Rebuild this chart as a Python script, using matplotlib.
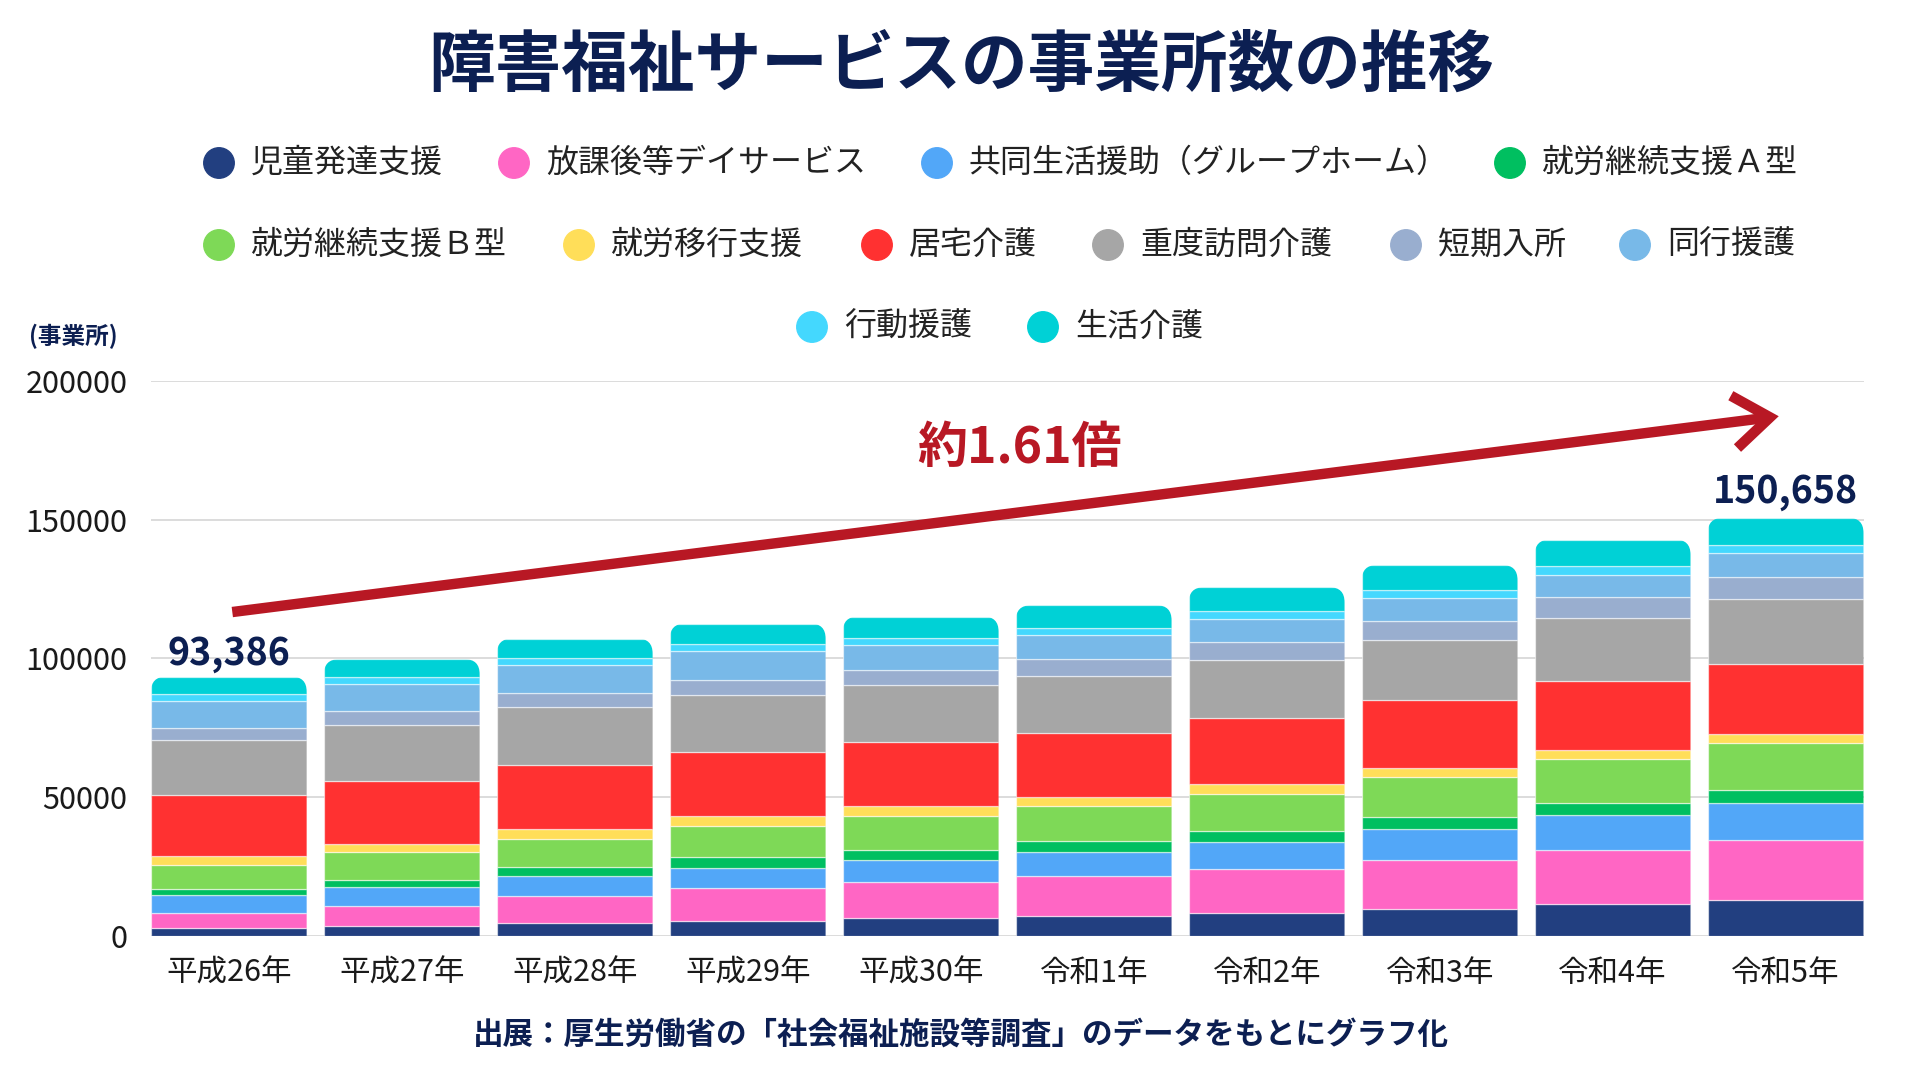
import matplotlib
matplotlib.use("Agg")
import matplotlib.pyplot as plt
from matplotlib.patches import FancyBboxPatch, Ellipse
import numpy as np

plt.rcParams['font.family'] = ['Noto Sans CJK JP', 'DejaVu Sans']

# ---------------- data ----------------
years = ["平成26年", "平成27年", "平成28年", "平成29年", "平成30年",
         "令和1年", "令和2年", "令和3年", "令和4年", "令和5年"]

series_names = ["児童発達支援", "放課後等デイサービス", "共同生活援助（グループホーム）",
                "就労継続支援Ａ型", "就労継続支援Ｂ型", "就労移行支援", "居宅介護",
                "重度訪問介護", "短期入所", "同行援護", "行動援護", "生活介護"]

jidou_hattatsu   = [2890, 3615, 4580, 5420, 6510, 7230, 8315, 9760, 11450, 13010]
houkago_day      = [5420, 6990, 9640, 11690, 12770, 14220, 15905, 17470, 19520, 21450]
kyoudou_seikatsu = [6265, 6870, 7230, 7470, 8075, 8800, 9640, 11205, 12530, 13375]
shurou_a         = [2410, 2770, 3375, 3855, 3615, 3735, 3735, 4215, 4215, 4580]
shurou_b         = [8680, 9760, 10120, 10965, 12050, 12650, 13615, 14460, 15905, 16990]
shurou_ikou      = [3130, 3010, 3375, 3615, 3615, 3375, 3375, 3375, 3375, 3375]
kyotaku_kaigo    = [21810, 22650, 23135, 23135, 23135, 23135, 23860, 24460, 24695, 25120]
juudo_houmon     = [19790, 20390, 20855, 20630, 20445, 20500, 20975, 21685, 22745, 23375]
tanki_nyusho     = [4580, 4945, 5200, 5525, 5705, 6135, 6605, 6970, 7725, 7925]
doukou_engo      = [9640, 9855, 10110, 10360, 9025, 8520, 8305, 8195, 8050, 8800]
koudou_engo      = [2640, 2530, 2635, 2635, 2525, 2780, 2890, 2890, 3250, 2700]
seikatsu_kaigo   = [6126, 6310, 6860, 7220, 7580, 8050, 8410, 8950, 9340, 9958]

total_first = "93,386"
total_last = "150,658"
growth_label = "約1.61倍"
yticks = [0, 50000, 100000, 150000, 200000]

series_values = [jidou_hattatsu, houkago_day, kyoudou_seikatsu, shurou_a, shurou_b,
                 shurou_ikou, kyotaku_kaigo, juudo_houmon, tanki_nyusho,
                 doukou_engo, koudou_engo, seikatsu_kaigo]

# ---------------- style ----------------
colors = ["#223f80", "#ff66c4", "#52a7f8", "#00bf60", "#7ed957", "#ffde59",
          "#ff3131", "#a6a6a6", "#99aecf", "#78b9e8", "#44d8fe", "#00d1d6"]
navy = "#0c1f52"
arrow_red = "#b81824"

fig = plt.figure(figsize=(19.2, 10.8), dpi=100)
W, H = 1920, 1080

ax_left, ax_right = 151, 1863.5
ax_bottom, ax_top = 935.7, 381
ax = fig.add_axes([ax_left / W, 1 - ax_bottom / H, (ax_right - ax_left) / W, (ax_bottom - ax_top) / H])

n = len(years)
x = np.arange(n)
bw = 0.9
ax.set_xlim(-bw / 2, n - 1 + bw / 2)
ax.set_ylim(yticks[0], yticks[-1])

# pixel scale for rounded tops
px_per_x = (ax_right - ax_left) / (n - 1 + bw)
px_per_y = (ax_bottom - ax_top) / (yticks[-1] - yticks[0])
r_px = 15
r_x = r_px / px_per_x
aspect = px_per_x / px_per_y

vals = np.array(series_values, dtype=float)
totals = vals.sum(axis=0)

clips = []
for i in range(n):
    clip = FancyBboxPatch((x[i] - bw / 2, -20000), bw, totals[i] + 20000,
                          boxstyle=f"round,pad=0,rounding_size={r_x}",
                          mutation_aspect=aspect, transform=ax.transData)
    clips.append(clip)

bottom = np.zeros(n)
for k, (name, v) in enumerate(zip(series_names, vals)):
    bars = ax.bar(x, v, bw, bottom=bottom, color=colors[k], edgecolor=(1, 1, 1, 0.55),
                  linewidth=0.9, zorder=3)
    for i, b in enumerate(bars):
        b.set_clip_path(clips[i])
    bottom += v

# grid & axes
ax.set_yticks(yticks)
ax.set_yticklabels([str(t) for t in yticks], fontsize=22, color="#1a1a1a")
ax.yaxis.grid(True, color="#d6d6d6", linewidth=1.2, zorder=0)
ax.set_axisbelow(True)
ax.tick_params(axis="y", length=0, pad=17)
ax.set_xticks(x)
ax.set_xticklabels(years, fontsize=22, color="#1a1a1a")
ax.tick_params(axis="x", length=0, pad=16)
for s in ax.spines.values():
    s.set_visible(False)

# total labels
ax.annotate(total_first, xy=(x[0], totals[0]), xytext=(0, 9), textcoords="offset points",
            ha="center", va="baseline", fontsize=27, fontweight="bold", color=navy, zorder=5)
ax.annotate(total_last, xy=(x[-1], totals[-1]), xytext=(0, 11), textcoords="offset points",
            ha="center", va="baseline", fontsize=27, fontweight="bold", color=navy, zorder=5)

# growth arrow
ax.annotate("", xy=(8.96, 187300), xytext=(0.02, 116700),
            arrowprops=dict(arrowstyle="->,head_length=1.3,head_width=0.95",
                            color=arrow_red, lw=7.5, mutation_scale=20,
                            shrinkA=0, shrinkB=0, capstyle="butt", joinstyle="miter"),
            zorder=6)
ax.text(4.57, 175800, growth_label, ha="center", va="center", fontsize=36,
        fontweight="bold", color=arrow_red, zorder=6)

# title
fig.text(961 / W, 1 - 66 / H, "障害福祉サービスの事業所数の推移", ha="center", va="center",
         fontsize=48, fontweight="bold", color=navy)

# y-axis unit
fig.text(73.5 / W, 1 - 336 / H, "(事業所)", ha="center", va="center", fontsize=17,
         fontweight="bold", color=navy)

# legend (manual flow layout)
legend_rows_y = [163, 245, 327]
legend_layout = [  # (row, circle_x)
    (0, 219), (0, 514), (0, 937), (0, 1510),
    (1, 219), (1, 579), (1, 877), (1, 1108), (1, 1406), (1, 1635),
    (2, 812), (2, 1043),
]
d_px = 30.5
for k, (row, cx) in enumerate(legend_layout):
    yy = 1 - legend_rows_y[row] / H
    fig.patches.append(Ellipse((cx / W, yy), d_px / W, d_px / H, transform=fig.transFigure,
                               color=colors[k], figure=fig))
    fig.text((cx + 32) / W, yy, series_names[k], ha="left", va="center",
             fontsize=23, color="#222222")

# source
fig.text(961 / W, 1 - 1035 / H, "出展：厚生労働省の「社会福祉施設等調査」のデータをもとにグラフ化",
         ha="center", va="center", fontsize=22, fontweight="bold", color=navy)

fig.savefig("out.png", dpi=100, facecolor="white")
